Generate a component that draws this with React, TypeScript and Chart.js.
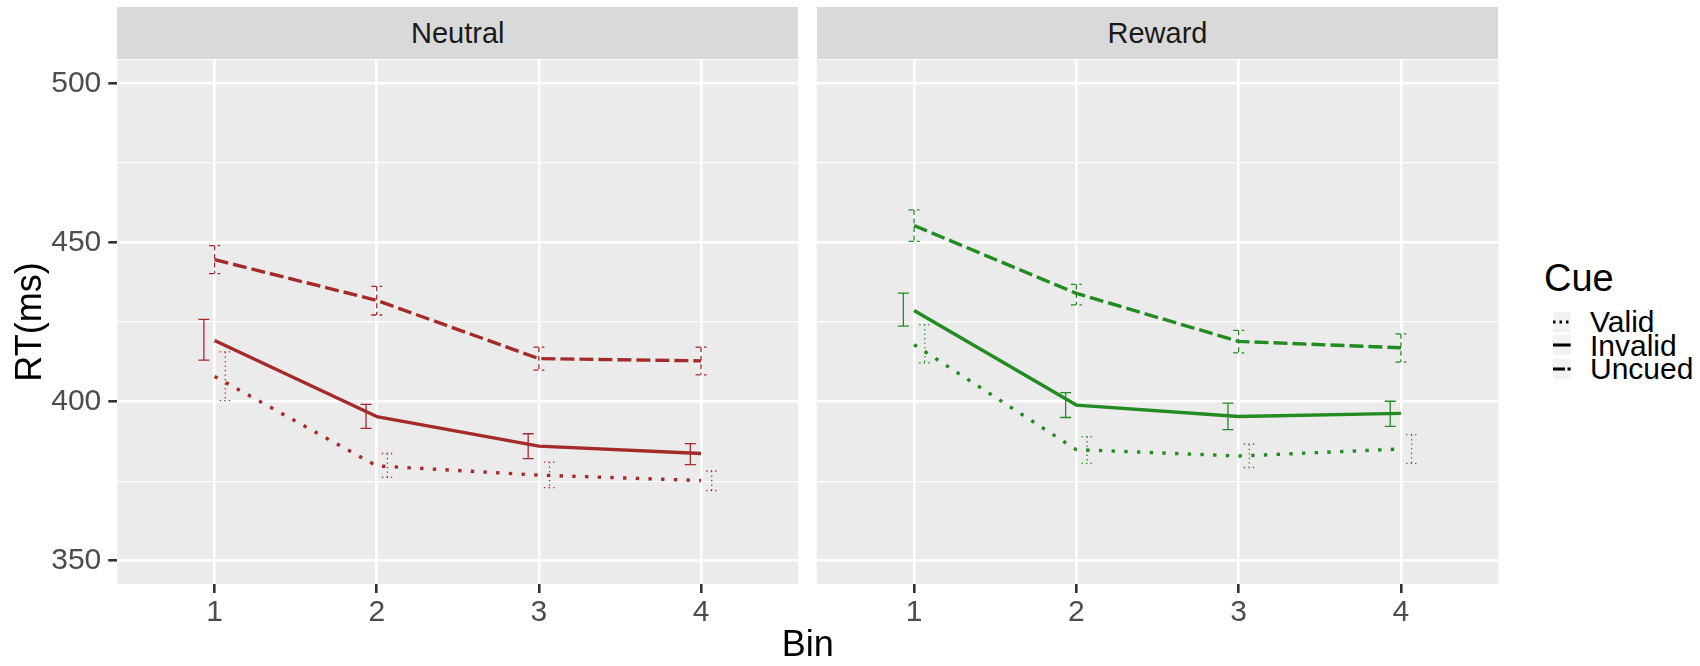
import React, { useEffect, useRef } from "react";
import { Chart, registerables } from "chart.js";

Chart.register(...registerables);

// ---------- data ----------
const bins = [1, 2, 3, 4];
const cueLevels = ["Valid", "Invalid", "Uncued"];
const yTickValues = [350, 375, 400, 425, 450, 475, 500];
const yLabelValues = [350, 400, 450, 500];
const panelNames = ["Neutral", "Reward"];

const neutralValid = [407.9, 379.8, 376.9, 375.2];
const neutralValidLo = [400.3, 376.2, 373.0, 372.0];
const neutralValidHi = [415.6, 383.7, 381.0, 378.2];
const neutralInvalid = [419.2, 395.3, 386.0, 383.7];
const neutralInvalidLo = [413.0, 391.6, 382.1, 380.2];
const neutralInvalidHi = [425.8, 399.1, 389.9, 386.8];
const neutralUncued = [444.6, 431.8, 413.5, 412.8];
const neutralUncuedLo = [440.2, 427.2, 409.9, 408.4];
const neutralUncuedHi = [449.0, 436.2, 417.1, 417.1];

const rewardValid = [417.9, 384.9, 382.9, 385.1];
const rewardValidLo = [412.2, 380.6, 379.3, 380.6];
const rewardValidHi = [424.2, 389.0, 386.6, 389.6];
const rewardInvalid = [428.6, 398.9, 395.3, 396.3];
const rewardInvalidLo = [423.7, 395.0, 391.2, 392.2];
const rewardInvalidHi = [434.1, 402.8, 399.5, 400.1];
const rewardUncued = [455.3, 434.0, 418.9, 416.9];
const rewardUncuedLo = [450.3, 430.4, 415.3, 412.4];
const rewardUncuedHi = [460.2, 436.8, 422.4, 421.3];

// ---------- styles ----------
const FONT = "'Liberation Sans', Arial, Helvetica, sans-serif";
const panelColors = ["#A52A2A", "#228B22"];
const lineDash: Record<string, number[]> = { Valid: [3.4, 9.3], Invalid: [], Uncued: [14, 5] };
const barDash: Record<string, number[]> = { Valid: [1.3, 3.2], Invalid: [], Uncued: [5, 3.5] };
const dodge: Record<string, number> = { Valid: 0.066, Invalid: -0.066, Uncued: 0 };
const capHalf = 0.034;

const W = 1700;
const H = 666;
const PANEL_TOP = 60;
const PANEL_BOTTOM = 584;
const LEFT_L = 117.3;
const LEFT_R = 798.3;
const RIGHT_L = 816.7;
const RIGHT_R = 1498.3;
const Y_MIN = 342.7;
const Y_MAX = 507.3;
const TICK_FONT = 30;

type Series = { name: string; mean: number[]; lo: number[]; hi: number[] };

const panelSeries: Series[][] = [
  [
    { name: "Valid", mean: neutralValid, lo: neutralValidLo, hi: neutralValidHi },
    { name: "Invalid", mean: neutralInvalid, lo: neutralInvalidLo, hi: neutralInvalidHi },
    { name: "Uncued", mean: neutralUncued, lo: neutralUncuedLo, hi: neutralUncuedHi },
  ],
  [
    { name: "Valid", mean: rewardValid, lo: rewardValidLo, hi: rewardValidHi },
    { name: "Invalid", mean: rewardInvalid, lo: rewardInvalidLo, hi: rewardInvalidHi },
    { name: "Uncued", mean: rewardUncued, lo: rewardUncuedLo, hi: rewardUncuedHi },
  ],
];

function makeConfig(series: Series[], color: string, showY: boolean, canvasW: number, chartLeft: number, chartRight: number): any {
  const bgPlugin = {
    id: "panelBg",
    beforeDraw(chart: any) {
      const { ctx, chartArea: a } = chart;
      ctx.save();
      ctx.fillStyle = "#EBEBEB";
      ctx.fillRect(a.left, a.top, a.right - a.left, a.bottom - a.top);
      ctx.restore();
    },
  };
  const errPlugin = {
    id: "errBars",
    afterDatasetsDraw(chart: any) {
      const { ctx } = chart;
      const xs = chart.scales.x;
      const ys = chart.scales.y;
      ctx.save();
      ctx.strokeStyle = color;
      ctx.lineWidth = 1.3;
      ctx.lineCap = "butt";
      series.forEach((s) => {
        ctx.setLineDash(barDash[s.name]);
        bins.forEach((b, i) => {
          const c = b + dodge[s.name];
          const xc = xs.getPixelForValue(c);
          const xl = xs.getPixelForValue(c - capHalf);
          const xr = xs.getPixelForValue(c + capHalf);
          const yl = ys.getPixelForValue(s.lo[i]);
          const yh = ys.getPixelForValue(s.hi[i]);
          ctx.beginPath();
          ctx.moveTo(xl, yh);
          ctx.lineTo(xr, yh);
          ctx.moveTo(xc, yh);
          ctx.lineTo(xc, yl);
          ctx.moveTo(xl, yl);
          ctx.lineTo(xr, yl);
          ctx.stroke();
        });
      });
      ctx.restore();
    },
  };

  const datasets = series.map((s) => ({
    label: s.name,
    data: bins.map((b, i) => ({ x: b, y: s.mean[i] })),
    borderColor: color,
    backgroundColor: color,
    borderWidth: 3.4,
    borderDash: lineDash[s.name],
    borderCapStyle: "butt",
    borderJoinStyle: "round",
    pointRadius: 0,
    pointHoverRadius: 0,
    tension: 0,
    fill: false,
  }));

  return {
    type: "line",
    data: { datasets },
    plugins: [bgPlugin, errPlugin],
    options: {
      animation: false,
      responsive: false,
      devicePixelRatio: 1,
      events: [],
      layout: { padding: { left: 0, top: PANEL_TOP, right: canvasW - chartRight, bottom: 0 } },
      plugins: { legend: { display: false }, tooltip: { enabled: false }, title: { display: false } },
      scales: {
        x: {
          type: "linear",
          min: 0.4,
          max: 4.6,
          afterBuildTicks: (s: any) => {
            s.ticks = bins.map((v) => ({ value: v }));
          },
          afterFit: (s: any) => {
            s.height = H - PANEL_BOTTOM;
          },
          grid: { color: "#FFFFFF", lineWidth: 2.6, drawTicks: true, tickLength: 9, tickColor: "#333333", tickWidth: 2.6 },
          border: { display: false },
          ticks: {
            color: "#4D4D4D",
            font: { family: FONT, size: TICK_FONT },
            padding: 2,
            maxRotation: 0,
            autoSkip: false,
            callback: (v: any) => String(v),
          },
        },
        y: {
          type: "linear",
          min: Y_MIN,
          max: Y_MAX,
          afterBuildTicks: (s: any) => {
            s.ticks = yTickValues.map((v) => ({ value: v }));
          },
          afterFit: (s: any) => {
            s.width = chartLeft;
          },
          grid: {
            color: "#FFFFFF",
            lineWidth: (c: any) => (c.tick && yLabelValues.includes(c.tick.value) ? 2.6 : 1.3),
            drawTicks: showY,
            tickLength: 9,
            tickWidth: 2.6,
            tickColor: (c: any) => (c.tick && yLabelValues.includes(c.tick.value) ? "#333333" : "rgba(0,0,0,0)"),
          },
          border: { display: false },
          ticks: {
            display: showY,
            color: "#4D4D4D",
            font: { family: FONT, size: TICK_FONT },
            padding: 7,
            autoSkip: false,
            callback: (v: any) => (yLabelValues.includes(v) ? String(v) : ""),
          },
        },
      },
    },
  };
}

function PanelChart({ index, left, width, showY, chartLeft, chartRight }: any) {
  const ref = useRef<HTMLCanvasElement>(null);
  useEffect(() => {
    if (!ref.current) return;
    const chart = new Chart(ref.current, makeConfig(panelSeries[index], panelColors[index], showY, width, chartLeft, chartRight));
    return () => chart.destroy();
  }, []);
  return (
    <canvas
      ref={ref}
      width={width}
      height={H}
      style={{ position: "absolute", left, top: 0, width, height: H, display: "block" }}
    />
  );
}

const keyDash: Record<string, string> = { Valid: "2.5 4", Invalid: "", Uncued: "12 2.5" };

export default function App() {
  const strips = [
    { name: panelNames[0], l: LEFT_L, r: LEFT_R },
    { name: panelNames[1], l: RIGHT_L, r: RIGHT_R },
  ];
  const rowTops = [311.7, 335.3, 359];
  return (
    <div style={{ position: "absolute", left: 0, top: 0, width: W, height: H, background: "#FFFFFF", overflow: "hidden", fontFamily: FONT }}>
      <PanelChart index={0} left={0} width={800} showY={true} chartLeft={LEFT_L} chartRight={LEFT_R} />
      <PanelChart index={1} left={800} width={700} showY={false} chartLeft={RIGHT_L - 800} chartRight={RIGHT_R - 800} />
      {strips.map((s) => (
        <div
          key={s.name}
          style={{
            position: "absolute",
            left: s.l,
            top: 6.7,
            width: s.r - s.l,
            height: 52.6,
            background: "#D9D9D9",
            color: "#1A1A1A",
            fontSize: 29,
            lineHeight: "52.6px",
            textAlign: "center",
          }}
        >
          {s.name}
        </div>
      ))}
      <div
        style={{
          position: "absolute",
          left: (LEFT_L + RIGHT_R) / 2 - 100,
          top: 625.5,
          width: 200,
          fontSize: 36,
          lineHeight: 1,
          textAlign: "center",
          color: "#000",
        }}
      >
        Bin
      </div>
      <div
        style={{
          position: "absolute",
          left: 28.5 - 100,
          top: (PANEL_TOP + PANEL_BOTTOM) / 2 - 18,
          width: 200,
          height: 36,
          fontSize: 36,
          lineHeight: "36px",
          textAlign: "center",
          color: "#000",
          transform: "rotate(-90deg)",
        }}
      >
        RT(ms)
      </div>
      <div style={{ position: "absolute", left: 1544, top: 259.4, fontSize: 38, lineHeight: 1, color: "#000" }}>Cue</div>
      {cueLevels.map((c, i) => (
        <React.Fragment key={c}>
          <svg width={17.7} height={20} style={{ position: "absolute", left: 1553.3, top: rowTops[i] }}>
            <rect x={0} y={0} width={17.7} height={20} fill="#F2F2F2" />
            <line x1={0} x2={17.7} y1={10} y2={10} stroke="#000" strokeWidth={3} strokeDasharray={keyDash[c] || undefined} />
          </svg>
          <div
            style={{
              position: "absolute",
              left: 1590,
              top: rowTops[i] + 10 - 14.7,
              fontSize: 30,
              lineHeight: 1,
              color: "#000",
              whiteSpace: "nowrap",
            }}
          >
            {c}
          </div>
        </React.Fragment>
      ))}
    </div>
  );
}
